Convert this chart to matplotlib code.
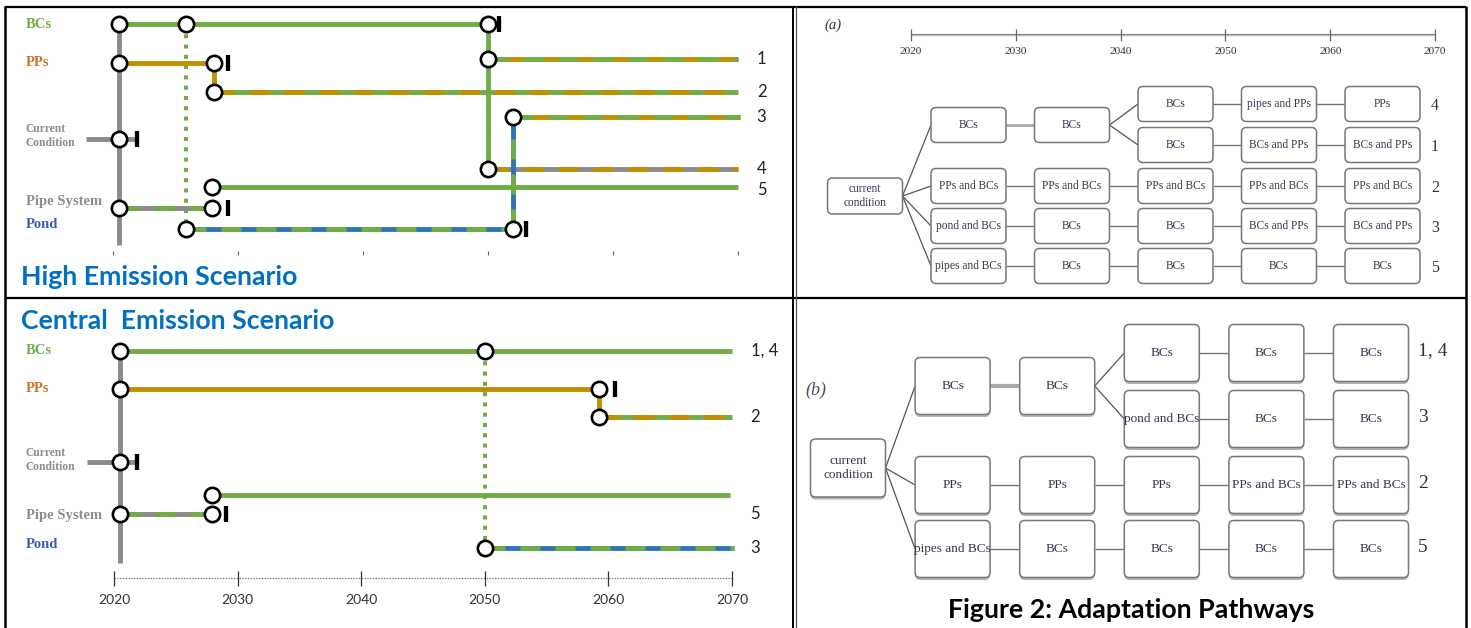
import matplotlib
matplotlib.use("Agg")
import matplotlib.pyplot as plt
from matplotlib.patches import FancyBboxPatch

plt.rcParams['lines.scale_dashes'] = False
plt.rcParams['lines.solid_capstyle'] = 'butt'
plt.rcParams['lines.dash_capstyle'] = 'butt'

W, H = 1471, 628
fig = plt.figure(figsize=(W / 100, H / 100), dpi=100)

# ---------------- colours ----------------
GREEN = '#70AD47'
GOLD = '#BF9000'
GRAY = '#8A8A8A'
BLUE = '#2E75B6'
COL = {'g': GREEN, 'o': GOLD, 'k': GRAY, 'b': BLUE}

# ---------------- data: left panels (years) ----------------
years_ticks = [2020, 2030, 2040, 2050, 2060, 2070]

# High emission scenario: horizontal segments (track, start, end, base, dash)
high_segments = [
    ('BCs', 2020.5, 2050.0, 'g', None),
    ('PPs', 2020.5, 2028.1, 'o', None),
    ('P2', 2028.1, 2070.0, 'g', 'o'),
    ('CC', 2017.8, 2021.9, 'k', None),
    ('Pipe', 2020.5, 2027.9, 'k', 'g'),
    ('P5', 2027.9, 2070.0, 'g', None),
    ('Pond', 2025.8, 2052.0, 'b', 'g'),
    ('P1', 2050.0, 2070.0, 'o', 'g'),
    ('P3', 2052.0, 2070.2, 'o', 'g'),
    ('P4', 2050.0, 2070.0, 'k', 'o'),
]
# vertical links (year, from track, to track, base, dash, dotted)
high_links = [
    (2020.5, 'BCs', 'End', 'k', None, False),
    (2025.8, 'BCs', 'Pond', 'g', None, True),
    (2028.1, 'PPs', 'P2', 'o', None, False),
    (2050.0, 'BCs', 'P4', 'g', None, False),
    (2052.0, 'Pond', 'P3', 'b', 'g', False),
]
high_nodes = [(2020.5, 'BCs'), (2025.8, 'BCs'), (2050.0, 'BCs'), (2020.5, 'PPs'),
              (2028.1, 'PPs'), (2028.1, 'P2'), (2020.5, 'CC'), (2027.9, 'P5'),
              (2020.5, 'Pipe'), (2027.9, 'Pipe'), (2025.8, 'Pond'), (2052.0, 'Pond'),
              (2050.0, 'P1'), (2052.0, 'P3'), (2050.0, 'P4')]
high_stops = [(2050.9, 'BCs'), (2029.2, 'PPs'), (2021.9, 'CC'), (2029.2, 'Pipe'), (2053.0, 'Pond')]
high_pathway_labels = [('1', 'P1'), ('2', 'P2'), ('3', 'P3'), ('4', 'P4'), ('5', 'P5L')]

# Central emission scenario
central_segments = [
    ('BCs', 2020.5, 2070.0, 'g', None),
    ('PPs', 2020.5, 2059.2, 'o', None),
    ('P2', 2059.2, 2070.0, 'g', 'o'),
    ('CC', 2017.8, 2021.9, 'k', None),
    ('Pipe', 2020.5, 2027.9, 'k', 'g'),
    ('P5', 2027.9, 2069.8, 'g', None),
    ('Pond', 2050.0, 2070.2, 'b', 'g'),
]
central_links = [
    (2020.5, 'BCs', 'End', 'k', None, False),
    (2059.2, 'PPs', 'P2', 'o', None, False),
    (2050.0, 'BCs', 'Pond', 'g', None, True),
]
central_nodes = [(2020.5, 'BCs'), (2050.0, 'BCs'), (2020.5, 'PPs'), (2059.2, 'PPs'),
                 (2059.2, 'P2'), (2020.5, 'CC'), (2027.9, 'P5'), (2020.5, 'Pipe'),
                 (2027.9, 'Pipe'), (2050.0, 'Pond')]
central_stops = [(2060.5, 'PPs'), (2021.9, 'CC'), (2029.1, 'Pipe')]
central_pathway_labels = [('1, 4', 'BCs'), ('2', 'P2'), ('5', 'Pipe'), ('3', 'Pond')]

row_names = ['BCs', 'PPs', 'Current\nCondition', 'Pipe System', 'Pond']

# ---------------- data: right panels (flow charts) ----------------
a_rows = {
    'top': ['BCs', 'BCs'],
    '4': ['BCs', 'pipes and PPs', 'PPs'],
    '1': ['BCs', 'BCs and PPs', 'BCs and PPs'],
    '2': ['PPs and BCs', 'PPs and BCs', 'PPs and BCs', 'PPs and BCs', 'PPs and BCs'],
    '3': ['pond and BCs', 'BCs', 'BCs', 'BCs and PPs', 'BCs and PPs'],
    '5': ['pipes and BCs', 'BCs', 'BCs', 'BCs', 'BCs'],
}
b_rows = {
    'top': ['BCs', 'BCs'],
    '1, 4': ['BCs', 'BCs', 'BCs'],
    '3': ['pond and BCs', 'BCs', 'BCs'],
    '2': ['PPs', 'PPs', 'PPs', 'PPs and BCs', 'PPs and BCs'],
    '5': ['pipes and BCs', 'BCs', 'BCs', 'BCs', 'BCs'],
}
start_label = 'current\ncondition'

# ---------------- layout ----------------
LW = 3.5
DASH = (14.4, 10.8)
HIGH_Y = {'BCs': 24, 'PPs': 63, 'P1': 59, 'P2': 92, 'P3': 117, 'P4': 169, 'CC': 139,
          'P5': 187, 'P5L': 190, 'Pipe': 208, 'Pond': 229, 'End': 245}
CENT_Y = {'BCs': 351, 'PPs': 389, 'P2': 417, 'CC': 462, 'P5': 495, 'Pipe': 514,
          'Pond': 548, 'End': 563}

LATO = ['Lato', 'DejaVu Sans']
SERIF = ['Liberation Serif', 'DejaVu Serif']


def px_axes(x0, y0, x1, y1):
    return fig.add_axes([x0 / W, 1 - y1 / H, (x1 - x0) / W, (y1 - y0) / H])


# canvas axes in pixel units (frame, text, flow charts)
cv = px_axes(0, 0, W, H)
cv.set_xlim(0, W)
cv.set_ylim(H, 0)
cv.axis('off')


def left_axes(y0, y1, x2020, ppy):
    ax = px_axes(0, y0, 795, y1)
    ax.set_xlim(2020 - x2020 / ppy, 2020 + (795 - x2020) / ppy)
    ax.set_ylim(y1, y0)
    ax.axis('off')
    ax.patch.set_alpha(0)
    return ax


def two_tone(ax, xs, ys, base, dash, z=2):
    ax.plot(xs, ys, color=COL[base], lw=LW, zorder=z, clip_on=False)
    if dash:
        ax.plot(xs, ys, color=COL[dash], lw=LW, dashes=DASH, zorder=z + 0.1, clip_on=False)


def draw_pathways(ax, tracks, segments, links, nodes, stops, labels):
    for tr, x0, x1, base, dash in segments:
        two_tone(ax, [x0, x1], [tracks[tr]] * 2, base, dash)
    for x, t0, t1, base, dash, dotted in links:
        if dotted:
            ax.plot([x, x], [tracks[t0], tracks[t1]], color=COL[base], lw=2.9,
                    dashes=(2.9, 4.5), zorder=1.5, clip_on=False)
        else:
            two_tone(ax, [x, x], [tracks[t0], tracks[t1]], base, dash,
                     z=3 if dash else 1.8)
    ax.plot([n[0] for n in nodes], [tracks[n[1]] for n in nodes], 'o', ms=11,
            mfc='white', mec='black', mew=1.9, zorder=6, clip_on=False)
    ax.plot([s[0] for s in stops], [tracks[s[1]] for s in stops], '|', ms=12,
            mec='black', mew=3.1, zorder=6, clip_on=False)
    for txt, tr in labels:
        ax.text(2071.5, tracks[tr], txt, ha='left', va='center', fontsize=12,
                family=LATO, color='#222222')


ax_hi = left_axes(0, 298, 113, 12.5)
draw_pathways(ax_hi, HIGH_Y, high_segments, high_links, high_nodes, high_stops,
              high_pathway_labels)
ax_hi.vlines(years_ticks, 251, 255, color='#666666', lw=0.8)

ax_ce = left_axes(298, 628, 114, 12.36)
draw_pathways(ax_ce, CENT_Y, central_segments, central_links, central_nodes,
              central_stops, central_pathway_labels)
ax_ce.plot([years_ticks[0], years_ticks[-1]], [578, 578], color='#777777', lw=0.9,
           dashes=(1, 1))
ax_ce.vlines(years_ticks, 571, 586, color='#333333', lw=0.9)
for yv in years_ticks:
    ax_ce.text(yv, 600, str(yv), ha='center', va='center', fontsize=10, family=LATO,
               color='#333333')

# row labels
LBL_COL = [GREEN, '#C8742A', '#8C8C8C', '#8C8C8C', '#3A5DA8']


def row_labels(ys):
    for name, y, c in zip(row_names, ys, LBL_COL):
        small = '\n' in name
        cv.text(26, y, name, ha='left', va='center', fontsize=8.3 if small else 10.5,
                family=SERIF, weight='bold', color=c, linespacing=1.2)


row_labels([24, 63, 136, 202, 224])
row_labels([351, 389, 460, 516, 544])

cv.text(21, 277, 'High Emission Scenario', ha='left', va='center', fontsize=19.2,
        family=LATO, weight='bold', color='#0070C0')
cv.text(21, 321, 'Central  Emission Scenario', ha='left', va='center', fontsize=19.2,
        family=LATO, weight='bold', color='#0070C0')

# ---------------- frame ----------------
cv.plot([5, 1466], [6.5, 6.5], color='black', lw=1.6)
cv.plot([5, 5], [6, H], color='black', lw=1.8)
cv.plot([1466, 1466], [6, H], color='black', lw=1.8)
cv.plot([5, 1466], [298, 298], color='black', lw=1.6)
cv.plot([793.5, 793.5], [6, H], color='black', lw=1.4)
cv.plot([796.5, 796.5], [6, H], color='#555555', lw=0.9)


# ---------------- flow charts ----------------
def box(cx, cy, w, h, text, fs, shadow=False, color='#3a3550'):
    if shadow:
        cv.add_patch(FancyBboxPatch((cx - w / 2, cy - h / 2 + 2.5), w, h,
                                    boxstyle='round,pad=0,rounding_size=5',
                                    fc='#b5b5b5', ec='none', zorder=2))
    cv.add_patch(FancyBboxPatch((cx - w / 2, cy - h / 2), w, h,
                                boxstyle='round,pad=0,rounding_size=5',
                                fc='white', ec='#777777', lw=1.1, zorder=3))
    cv.text(cx, cy, text, ha='center', va='center', fontsize=fs, family=SERIF,
            color=color, zorder=4, linespacing=1.3)


def flow(rows_data, ycent, cols, cc_xy, bw, bh, cc_h, fs, shadow,
         label_x, label_fs, label_dy, link_thick):
    cc_x, cc_y = cc_xy
    box(cc_x, cc_y, bw, cc_h, start_label, fs, shadow)
    for key, items in rows_data.items():
        first = 3 if (key != 'top' and len(items) == 3) else 1
        y = ycent[key]
        for k, t in enumerate(items):
            c = first + k
            box(cols[c], y, bw, bh, t, fs, shadow)
            if k > 0:
                thick = key == 'top'
                cv.plot([cols[c - 1] + bw / 2, cols[c] - bw / 2], [y, y],
                        color='#aaaaaa' if thick else '#777777',
                        lw=link_thick if thick else 1.0, zorder=1)
        if first == 1:
            cv.plot([cc_x + bw / 2, cols[1] - bw / 2], [cc_y, y], color='#555555',
                    lw=0.9, zorder=1)
        else:
            cv.plot([cols[2] + bw / 2, cols[3] - bw / 2], [ycent['top'], y],
                    color='#555555', lw=0.9, zorder=1)
        if key != 'top':
            cv.text(label_x, y + label_dy, key, ha='left', va='center',
                    fontsize=label_fs, family=SERIF, color='#333333')


# (a)
A_COLS = [865 + 103.5 * i for i in range(6)]
A_Y = {'top': 125, '4': 104, '1': 145, '2': 186, '3': 226, '5': 266}
flow(a_rows, A_Y, A_COLS, (865, 196), 75, 35, 36, 8.3, False,
     1431, 11.5, 2, 2.0)
cv.text(824, 25, '(a)', ha='left', va='center', fontsize=10.5, family=SERIF,
        style='italic', color='#333333')

# (a) time axis
ax_ya = px_axes(911, 20, 1435, 60)
ax_ya.set_xlim(years_ticks[0], years_ticks[-1])
ax_ya.set_ylim(60, 20)
ax_ya.axis('off')
ax_ya.patch.set_alpha(0)
ax_ya.plot([years_ticks[0], years_ticks[-1]], [34.5, 34.5], color='#888888', lw=1.6,
           clip_on=False)
ax_ya.plot([years_ticks[0], years_ticks[-1]], [34.5, 34.5], color='#dddddd', lw=0.4,
           clip_on=False)
ax_ya.vlines(years_ticks, 29, 41, color='#666666', lw=0.9, clip_on=False)
for yv in years_ticks:
    ax_ya.text(yv, 51, str(yv), ha='center', va='center', fontsize=8.2, family=SERIF,
               color='#333333', clip_on=False)

# (b)
B_COLS = [848 + 104.6 * i for i in range(6)]
B_Y = {'top': 386, '1, 4': 353, '3': 419, '2': 485, '5': 549}
flow(b_rows, B_Y, B_COLS, (848, 468), 75, 57, 58, 9.5, True,
     1418, 14, -2, 3.0)
cv.text(805, 390, '(b)', ha='left', va='center', fontsize=13, family=SERIF,
        style='italic', color='#4a4a70')

cv.text(1131, 610, 'Figure 2: Adaptation Pathways', ha='center', va='center',
        fontsize=19.3, family=LATO, weight='bold', color='black')

fig.savefig('out.png', dpi=100)
